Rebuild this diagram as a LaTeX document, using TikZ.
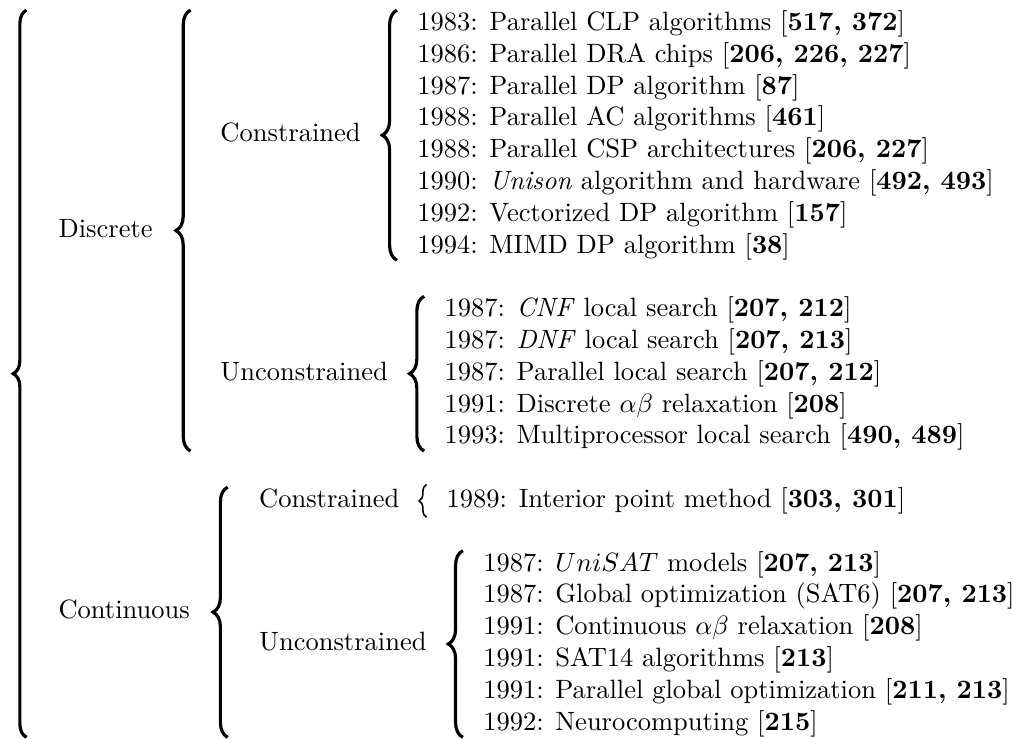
\documentclass[tikz,border=0pt]{standalone}
\usetikzlibrary{calc, matrix, positioning, decorations.pathreplacing}

\begin{document}
\begin{tikzpicture}[x=1pt, y=1pt,
        lbl/.style={anchor=west, inner sep=0, text height=8.5pt, text depth=3.5pt},
        lst/.style={matrix of nodes, inner sep=0, row sep=0pt,
            nodes={anchor=west, inner sep=0, text height=8.5pt, text depth=3.5pt}},
        brc/.style={decorate, decoration={brace, amplitude=5.5pt}, line width=1.2pt},
        brcs/.style={decorate, decoration={brace, amplitude=2.8pt}, line width=.6pt}]
    \useasboundingbox (0,0) rectangle (383,-278.5);
    % first level
    \node[lbl] (disc) at (21.9,-87) {Discrete};
    \node[lbl] (cont) at (21.9,-231) {Continuous};
    % second level
    \node[lbl] (dcon) at (83,-51) {Constrained};
    \node[lbl] (dunc) at (83,-141) {Unconstrained};
    \node[lbl] (ccon) at (97.6,-189) {Constrained};
    \node[lbl] (cunc) at (97.6,-243) {Unconstrained};
    % lists
    \matrix[lst, right=21pt of dcon] (dconl) {
        1983: Parallel CLP algorithms [\textbf{517, 372}]\\
        1986: Parallel DRA chips [\textbf{206, 226, 227}]\\
        1987: Parallel DP algorithm [\textbf{87}]\\
        1988: Parallel AC algorithms [\textbf{461}]\\
        1988: Parallel CSP architectures [\textbf{206, 227}]\\
        1990: \textit{Unison} algorithm and hardware [\textbf{492, 493}]\\
        1992: Vectorized DP algorithm [\textbf{157}]\\
        1994: MIMD DP algorithm [\textbf{38}]\\
    };
    \matrix[lst, right=21pt of dunc] (duncl) {
        1987: \textit{CNF} local search [\textbf{207, 212}]\\
        1987: \textit{DNF} local search [\textbf{207, 213}]\\
        1987: Parallel local search [\textbf{207, 212}]\\
        1991: Discrete $\alpha\beta$ relaxation [\textbf{208}]\\
        1993: Multiprocessor local search [\textbf{490, 489}]\\
    };
    \matrix[lst, right=17.5pt of ccon] (cconl) {
        1989: Interior point method [\textbf{303, 301}]\\
    };
    \matrix[lst, right=21pt of cunc] (cuncl) {
        1987: $UniSAT$ models [\textbf{207, 213}]\\
        1987: Global optimization (SAT6) [\textbf{207, 213}]\\
        1991: Continuous $\alpha\beta$ relaxation [\textbf{208}]\\
        1991: SAT14 algorithms [\textbf{213}]\\
        1991: Parallel global optimization [\textbf{211, 213}]\\
        1992: Neurocomputing [\textbf{215}]\\
    };
    % braces
    \foreach \l in {dconl, duncl, cuncl}
        \draw[brc] ($(\l.south west)+(-7.5,1)$) -- ($(\l.north west)+(-7.5,-1)$);
    \draw[brcs] ($(cconl.south west)+(-7.4,0)$) -- ($(cconl.north west)+(-7.4,0)$);
    \draw[brc] ($(duncl.south -| disc.east)+(14.1,1)$) -- ($(dconl.north -| disc.east)+(14.1,-1)$);
    \draw[brc] ($(cuncl.south -| cont.east)+(14.1,1)$) -- ($(cconl.north -| cont.east)+(14.1,-1)$);
    \draw[brc, decoration={amplitude=5pt}] ($(cuncl.south -| disc.west)+(-11.9,1)$) -- ($(dconl.north -| disc.west)+(-11.9,-1)$);
\end{tikzpicture}
\end{document}
